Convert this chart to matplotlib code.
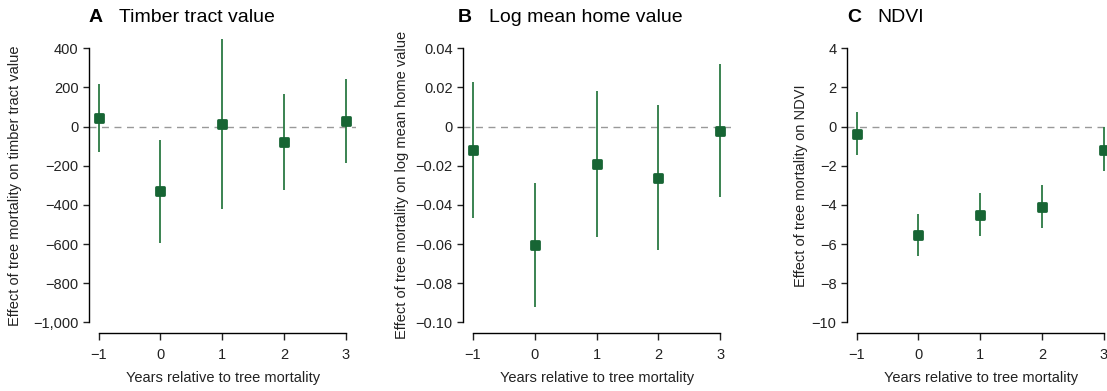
import numpy as np
import matplotlib
matplotlib.use("Agg")
import matplotlib.pyplot as plt
from matplotlib.markers import MarkerStyle

plt.rcParams['font.family'] = ['Liberation Sans', 'DejaVu Sans']

# years relative to the mortality event
years = [-1, 0, 1, 2, 3]
year_labels = ['\u22121', '0', '1', '2', '3']

# panel A: timber tract value
timber_est = [46, -329, 15, -79, 29]
timber_lo = [-130, -593, -419, -322, -186]
timber_hi = [216, -66, 446, 167, 243]
timber_ticks = [400, 200, 0, -200, -400, -600, -800, -1000]
timber_ticklabels = ['400', '200', '0', '\u2212200', '\u2212400', '\u2212600', '\u2212800', '\u22121,000']

# panel B: log mean home value
home_est = [-0.012, -0.0605, -0.0191, -0.0263, -0.0021]
home_lo = [-0.0466, -0.092, -0.0564, -0.063, -0.036]
home_hi = [0.023, -0.0287, 0.0182, 0.0109, 0.032]
home_ticks = [0.04, 0.02, 0, -0.02, -0.04, -0.06, -0.08, -0.10]
home_ticklabels = ['0.04', '0.02', '0', '\u22120.02', '\u22120.04', '\u22120.06', '\u22120.08', '\u22120.10']

# panel C: NDVI
ndvi_est = [-0.36, -5.54, -4.52, -4.11, -1.17]
ndvi_lo = [-1.44, -6.61, -5.61, -5.2, -2.29]
ndvi_hi = [0.73, -4.45, -3.37, -3.0, -0.03]
ndvi_ticks = [4, 2, 0, -2, -4, -6, -8, -10]
ndvi_ticklabels = ['4', '2', '0', '\u22122', '\u22124', '\u22126', '\u22128', '\u221210']

panels = [
    ('A', 'Timber tract value', 'Effect of tree mortality on timber tract value',
     timber_est, timber_lo, timber_hi, timber_ticks, timber_ticklabels, 460),
    ('B', 'Log mean home value', 'Effect of tree mortality on log mean home value',
     home_est, home_lo, home_hi, home_ticks, home_ticklabels, 0.046),
    ('C', 'NDVI', 'Effect of tree mortality on NDVI',
     ndvi_est, ndvi_lo, ndvi_hi, ndvi_ticks, ndvi_ticklabels, 4.6),
]

W, H = 1107, 391
fig = plt.figure(figsize=(W / 100, H / 100), dpi=100)

ax_left_px = [88.8, 463.1, 846.8]
ylabel_x = [-0.276, -0.229, -0.172]
letter_x = [-0.002, -0.019, 0.0]
width_px = 267.6
bottom_px = 322.3
height_px = 285.7

pt_color = '#176534'
bar_color = '#2b7a43'
marker = MarkerStyle('s', joinstyle='round')

for i, (letter, title, ylab, est, lo, hi, ticks, ticklabels, ytop) in enumerate(panels):
    ax = fig.add_axes([ax_left_px[i] / W, 1 - bottom_px / H, width_px / W, height_px / H])

    ax.axhline(0, color='#999999', lw=1.0, ls=(0, (5, 4)), zorder=1)
    ax.vlines(years, lo, hi, color=bar_color, lw=1.3, zorder=2)
    ax.plot(years, est, ls='none', marker=marker, ms=6.0, mfc=pt_color,
            mec=pt_color, mew=2.0, zorder=3)

    ax.set_xlim(-1.16, 3.17)
    ax.set_ylim(ticks[-1], ytop)

    ax.set_yticks(ticks)
    ax.set_yticklabels(ticklabels)
    ax.set_xticks(years)
    ax.set_xticklabels(year_labels)

    for s in ['top', 'right']:
        ax.spines[s].set_visible(False)
    ax.spines['left'].set_bounds(ticks[-1], ticks[0])
    ax.spines['bottom'].set_bounds(-1, 3)
    ax.spines['bottom'].set_position(('outward', 8))
    ax.spines['left'].set_linewidth(1.0)
    ax.spines['bottom'].set_linewidth(1.0)

    ax.tick_params(axis='y', length=4.5, width=1.0, pad=3, labelsize=10.5, colors='#222222')
    ax.tick_params(axis='x', length=5, width=1.0, pad=5.5, labelsize=10.5, colors='#222222')
    ax.patch.set_visible(False)

    ax.set_ylabel(ylab, fontsize=10.5, va='center', color='#222222')
    ax.yaxis.set_label_coords(ylabel_x[i], 0.4795)
    ax.set_xlabel('Years relative to tree mortality', fontsize=10.5, va='center', color='#222222')
    ax.xaxis.set_label_coords(0.5, -0.1957)

    ax.text(letter_x[i], 1.052, letter, transform=ax.transAxes, fontsize=14,
            fontweight='bold', va='baseline', ha='left')
    ax.text(letter_x[i] + 31 / width_px, 1.052, title, transform=ax.transAxes,
            fontsize=14, va='baseline', ha='left')

fig.savefig('out.png', dpi=100)
